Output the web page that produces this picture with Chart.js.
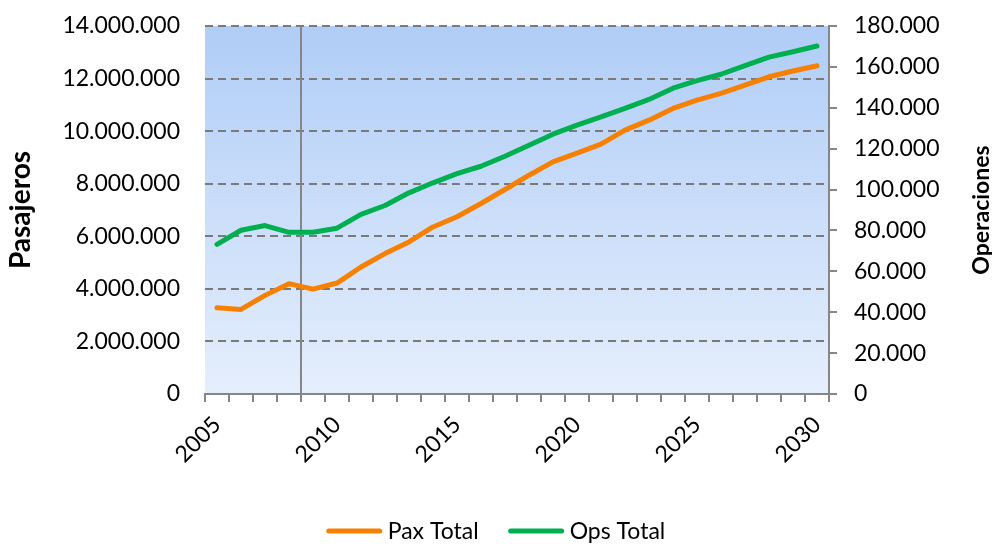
<!DOCTYPE html>
<html>
<head>
<meta charset="utf-8">
<script src="https://cdn.jsdelivr.net/npm/chart.js@4.4.1/dist/chart.umd.min.js"></script>
<style>
html,body{margin:0;padding:0;background:#ffffff;}
#wrap{width:992px;height:544px;}
</style>
</head>
<body>
<div id="wrap"><canvas id="c" width="992" height="544"></canvas></div>
<script>
// ---- data ----
const years = ['2005','2006','2007','2008','2009','2010','2011','2012','2013','2014','2015','2016','2017','2018','2019','2020','2021','2022','2023','2024','2025','2026','2027','2028','2029','2030'];
const paxTotal = [3284000,3219000,3752000,4198000,3992000,4221000,4830000,5341000,5783000,6354000,6743000,7246000,7779000,8324000,8830000,9162000,9505000,10038000,10419000,10865000,11181000,11436000,11752000,12068000,12286000,12487000];
const opsTotal = [73200,80100,82400,79100,79100,81100,87900,92200,98400,103300,107800,111400,116300,121700,127100,131500,135600,139700,144100,149600,153300,156400,160600,164800,167400,170200];
const shownYears = ['2005','2010','2015','2020','2025','2030'];
const seriesNames = ['Pax Total','Ops Total'];
const leftTitle = 'Pasajeros';
const rightTitle = 'Operaciones';
const dividerAfter = '2008'; // vertical line between 2008 and 2009

const ORANGE = '#F88000';
const GREEN = '#00B050';
const AXIS = '#868686';
const FONT = 'Lato';

const fmt = v => String(v).replace(/\B(?=(\d{3})+(?!\d))/g, '.');

const bgPlugin = {
  id: 'bg',
  beforeDraw(chart) {
    const {ctx, chartArea: a} = chart;
    const g = ctx.createLinearGradient(0, a.top, 0, a.bottom);
    g.addColorStop(0, '#B0CDF7');
    g.addColorStop(1, '#E5EEFC');
    ctx.save();
    ctx.fillStyle = g;
    ctx.fillRect(a.left, a.top, a.right - a.left, a.bottom - a.top);
    ctx.restore();
  },
  beforeDatasetsDraw(chart) {
    const {ctx, chartArea: a, scales} = chart;
    const i = years.indexOf(dividerAfter);
    const x = Math.round((scales.x.getPixelForValue(i) + scales.x.getPixelForValue(i + 1)) / 2);
    ctx.save();
    ctx.strokeStyle = AXIS;
    ctx.lineWidth = 2;
    ctx.beginPath();
    ctx.moveTo(x, a.top);
    ctx.lineTo(x, a.bottom);
    ctx.stroke();
    ctx.restore();
  },
  afterDraw(chart) {
    const {ctx, chartArea: a} = chart;
    ctx.save();
    // right axis title (reads bottom-to-top)
    ctx.translate(982, (a.top + a.bottom) / 2);
    ctx.rotate(-Math.PI / 2);
    ctx.font = 'bold 23px ' + FONT;
    ctx.fillStyle = '#000';
    ctx.textAlign = 'center';
    ctx.textBaseline = 'middle';
    ctx.fillText(rightTitle, 0, 0);
    ctx.restore();

    // legend
    ctx.save();
    ctx.font = '23px ' + FONT;
    ctx.textBaseline = 'middle';
    ctx.textAlign = 'left';
    const lineLen = 55, gap = 6, sep = 30;
    const ds = chart.data.datasets;
    const widths = ds.map(d => lineLen + gap + ctx.measureText(d.label).width);
    const total = widths.reduce((s, w) => s + w, 0) + sep * (ds.length - 1);
    let x = chart.width / 2 - total / 2;
    const y = 531;
    ds.forEach((d, k) => {
      ctx.strokeStyle = d.borderColor;
      ctx.lineWidth = 5;
      ctx.lineCap = 'round';
      ctx.beginPath();
      ctx.moveTo(x + 2, y);
      ctx.lineTo(x + lineLen - 2, y);
      ctx.stroke();
      ctx.fillStyle = '#000';
      ctx.fillText(d.label, x + lineLen + gap, y + 1);
      x += widths[k] + sep;
    });
    ctx.restore();
  }
};

function build() {
  new Chart(document.getElementById('c'), {
    type: 'line',
    data: {
      labels: years,
      datasets: [
        {label: seriesNames[0], data: paxTotal, yAxisID: 'y', borderColor: ORANGE, backgroundColor: ORANGE,
         borderWidth: 5, pointRadius: 0, tension: 0, borderCapStyle: 'round', borderJoinStyle: 'round'},
        {label: seriesNames[1], data: opsTotal, yAxisID: 'y1', borderColor: GREEN, backgroundColor: GREEN,
         borderWidth: 5, pointRadius: 0, tension: 0, borderCapStyle: 'round', borderJoinStyle: 'round'}
      ]
    },
    options: {
      responsive: false,
      animation: false,
      layout: {padding: {top: 26, bottom: 50, left: 0, right: 0}},
      plugins: {legend: {display: false}, tooltip: {enabled: false}},
      scales: {
        x: {
          type: 'category',
          offset: true,
          grid: {display: true, drawOnChartArea: false, drawTicks: true, tickLength: 8, color: AXIS, lineWidth: 2, offset: true},
          border: {display: true, color: AXIS, width: 2},
          ticks: {
            autoSkip: false, minRotation: 45, maxRotation: 45, padding: 9,
            font: {family: FONT, size: 23}, color: '#000',
            callback(v) { const l = this.getLabelForValue(v); return shownYears.includes(l) ? l : ''; }
          },
          afterFit(s) { s.height = 100; }
        },
        y: {
          position: 'left',
          min: 0, max: 14000000,
          ticks: {stepSize: 2000000, padding: 25, font: {family: FONT, size: 23}, color: '#000', callback: v => fmt(v)},
          grid: {color: '#7A7A7A', lineWidth: 2, drawTicks: false},
          border: {display: false, dash: [8, 5]},
          title: {display: true, text: leftTitle, color: '#000', font: {family: FONT, size: 28, weight: 'bold'}, padding: {top: 4, bottom: 0}},
          afterFit(s) { s.width = 205; s.paddingTop = 14; s.paddingBottom = 14; }
        },
        y1: {
          position: 'right',
          min: 0, max: 180000,
          ticks: {stepSize: 20000, padding: 17, font: {family: FONT, size: 23}, color: '#000', callback: v => fmt(v)},
          grid: {drawOnChartArea: false, drawTicks: true, tickLength: 8, color: AXIS, lineWidth: 2},
          border: {display: true, color: AXIS, width: 2},
          afterFit(s) { s.width = 163; s.paddingTop = 14; s.paddingBottom = 14; }
        }
      }
    },
    plugins: [bgPlugin]
  });
}
if (document.fonts && document.fonts.load) {
  Promise.all([document.fonts.load('23px Lato'), document.fonts.load('bold 23px Lato')]).then(build, build);
} else { build(); }
</script>
</body>
</html>
